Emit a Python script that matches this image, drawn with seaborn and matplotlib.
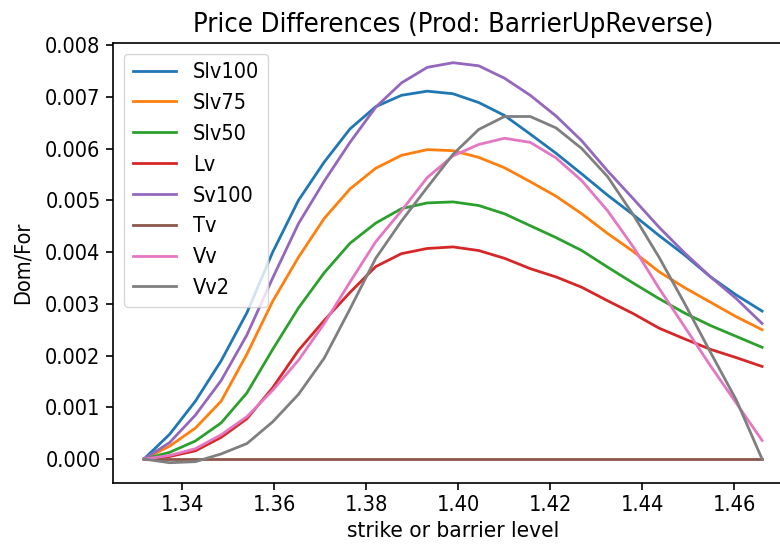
import numpy as np
import pandas as pd
import matplotlib
matplotlib.use("Agg")
import matplotlib.pyplot as plt
from matplotlib import font_manager
import seaborn as sns

strike = [1.3317, 1.3373, 1.3429, 1.3485, 1.3541, 1.3597, 1.3653, 1.3709,
          1.3765, 1.3821, 1.3877, 1.3933, 1.3989, 1.4045, 1.4101, 1.4157,
          1.4213, 1.4269, 1.4325, 1.4381, 1.4437, 1.4493, 1.4549, 1.4605, 1.4661]

slv100 = [0.0, 0.00048, 0.00112, 0.0019, 0.00283, 0.0040, 0.0050, 0.00574,
          0.00638, 0.00681, 0.00703, 0.00711, 0.00706, 0.00689, 0.00664, 0.00628,
          0.00591, 0.00551, 0.0051, 0.00472, 0.00432, 0.00394, 0.00352, 0.00317, 0.00286]
slv75 = [0.0, 0.00025, 0.0006, 0.00112, 0.00203, 0.00305, 0.0039, 0.00465,
         0.00522, 0.00562, 0.00587, 0.00598, 0.00596, 0.00583, 0.00563, 0.00536,
         0.00508, 0.00474, 0.00436, 0.00401, 0.00362, 0.00331, 0.00303, 0.00275, 0.0025]
slv50 = [0.0, 0.00013, 0.00035, 0.0007, 0.00128, 0.00212, 0.00292, 0.0036,
         0.00417, 0.00456, 0.00484, 0.00495, 0.00497, 0.0049, 0.00474, 0.00451,
         0.00428, 0.00403, 0.00371, 0.0034, 0.0031, 0.00282, 0.00258, 0.00237, 0.00216]
lv = [0.0, 0.00005, 0.00016, 0.00042, 0.00078, 0.00138, 0.0021, 0.00268,
      0.00322, 0.00372, 0.00397, 0.00407, 0.0041, 0.00403, 0.00388, 0.00368,
      0.00352, 0.00332, 0.00306, 0.00281, 0.00253, 0.00232, 0.00212, 0.00196, 0.00179]
sv100 = [0.0, 0.00032, 0.00085, 0.00152, 0.0024, 0.0035, 0.00455, 0.00537,
         0.00612, 0.0068, 0.00727, 0.00757, 0.00766, 0.0076, 0.00736, 0.00703,
         0.00663, 0.00615, 0.00557, 0.00503, 0.00448, 0.00398, 0.00352, 0.0031, 0.00262]
tv = [0.0] * 25
vv = [0.0, 0.00007, 0.0002, 0.00047, 0.00082, 0.00133, 0.00191, 0.00262,
      0.00342, 0.0042, 0.0048, 0.00544, 0.00586, 0.00608, 0.0062, 0.00612,
      0.00582, 0.00538, 0.0048, 0.0041, 0.0033, 0.00255, 0.0018, 0.00108, 0.00036]
vv2 = [0.0, -0.00007, -0.00005, 0.0001, 0.0003, 0.00072, 0.00125, 0.00195,
       0.0029, 0.00388, 0.0046, 0.00525, 0.00589, 0.00637, 0.00662, 0.00662,
       0.0064, 0.006, 0.00546, 0.00472, 0.0039, 0.003, 0.00206, 0.00114, 0.0]

series_names = ["Slv100", "Slv75", "Slv50", "Lv", "Sv100", "Tv", "Vv", "Vv2"]
series_values = [slv100, slv75, slv50, lv, sv100, tv, vv, vv2]

title = "Price Differences (Prod: BarrierUpReverse)"
xlabel = "strike or barrier level"
ylabel = "Dom/For"

names = {f.name for f in font_manager.fontManager.ttflist}
if "DejaVu Sans Condensed" in names:
    plt.rcParams["font.family"] = ["DejaVu Sans Condensed", "DejaVu Sans"]
else:
    plt.rcParams["font.family"] = ["DejaVu Sans"]
    plt.rcParams["font.stretch"] = "condensed"

base = 15.6
plt.rcParams["font.size"] = base

palette = sns.color_palette("tab10", len(series_names))

fig = plt.figure(figsize=(7.8, 5.44), dpi=100)
ax = fig.add_axes([113 / 780, (544 - 482.7) / 544, 680 / 780, 440 / 544])

for name, vals, col in zip(series_names, series_values, palette):
    df = pd.DataFrame({"strike": strike, "value": vals})
    sns.lineplot(data=df, x="strike", y="value", ax=ax, color=col,
                 label=name, linewidth=2.0)

ax.set_title(title, fontsize=19.6, pad=8)
ax.set_xlabel(xlabel, fontsize=16.2)
ax.set_ylabel(ylabel, fontsize=base, labelpad=9)
ax.set_xticks([1.34, 1.36, 1.38, 1.40, 1.42, 1.44, 1.46])
ax.set_xticklabels(["1.34", "1.36", "1.38", "1.40", "1.42", "1.44", "1.46"])
ax.tick_params(axis="both", labelsize=base, length=5, width=1.2, pad=4)
for sp in ax.spines.values():
    sp.set_linewidth(1.2)
    sp.set_color("black")

leg = ax.legend(loc="upper left", fontsize=base, frameon=True)
leg.get_frame().set_edgecolor("#cccccc")

fig.savefig("out.png", dpi=100)
